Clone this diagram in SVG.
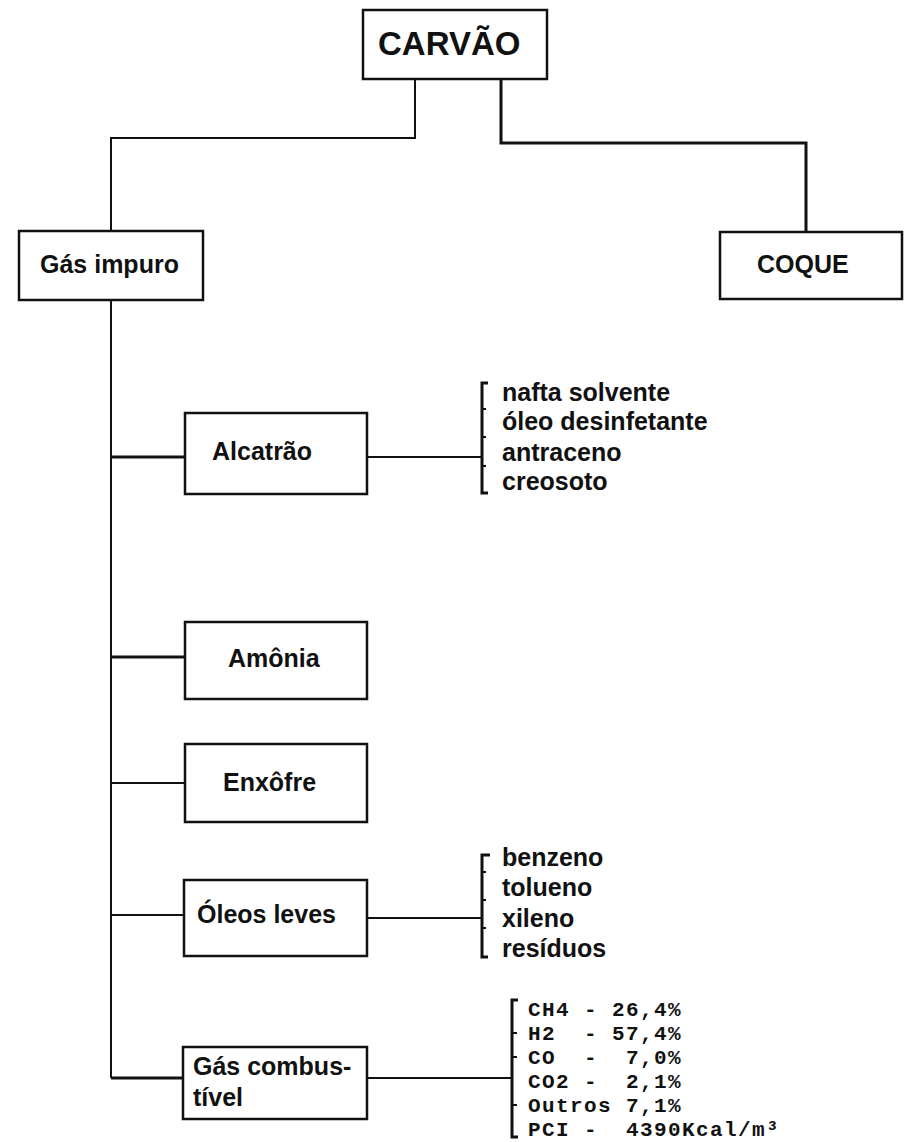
<svg xmlns="http://www.w3.org/2000/svg" width="907" height="1142" viewBox="0 0 907 1142">
<style>
.box{fill:#fff;stroke:#111;stroke-width:2.5}
.ln{fill:none;stroke:#111;stroke-width:2}
.thk{fill:none;stroke:#111;stroke-width:3}
.lbl{font-family:"Liberation Sans",Arial,sans-serif;font-weight:bold;font-size:25px;fill:#111}
.big{font-family:"Liberation Sans",Arial,sans-serif;font-weight:bold;font-size:33px;fill:#111}
.mono{font-family:"Liberation Mono","Courier New",monospace;font-weight:bold;font-size:21px;letter-spacing:1.4px;fill:#111;white-space:pre}
</style>
<rect width="907" height="1142" fill="#fff"/>
<g id="connectors">
<path class="ln" d="M415,79 V138 H111 V231"/>
<path class="thk" d="M501,79 V143 H806 V232"/>
<path class="ln" d="M111,300 V1078"/>
<path class="thk" d="M111,457 H185"/>
<path class="thk" d="M111,657 H185"/>
<path class="ln" d="M111,783 H185"/>
<path class="ln" d="M111,915 H184"/>
<path class="thk" d="M111,1078 H183"/>
<path class="ln" d="M367,457 H482"/>
<path class="ln" d="M367,918 H482"/>
<path class="ln" d="M367,1078 H512"/>
<path class="thk" d="M488,383 H482 V493 H488"/>
<path class="ln" d="M482,409 H486 M482,437 H486 M482,466 H486"/>
<path class="thk" d="M490,855 H482 V957 H488"/>
<path class="ln" d="M482,872 H486 M482,900 H486 M482,928 H486"/>
<path class="thk" d="M518,1000 H512 V1137 H518"/>
<path class="ln" d="M512,1033 H517 M512,1057 H517 M512,1105 H517"/>
</g>
<g id="carvao">
<rect class="box" x="363" y="10" width="184" height="69"/>
<text class="big" x="378" y="55">CARVÃO</text>
</g>
<g id="gas-impuro">
<rect class="box" x="19" y="231" width="184" height="69"/>
<text class="lbl" x="40" y="273">Gás impuro</text>
</g>
<g id="coque">
<rect class="box" x="720" y="232" width="182" height="67"/>
<text class="lbl" x="757" y="273">COQUE</text>
</g>
<g id="alcatrao">
<rect class="box" x="185" y="413" width="182" height="81"/>
<text class="lbl" x="212" y="460">Alcatrão</text>
</g>
<g id="alcatrao-produtos">
<text class="lbl" x="502" y="401">nafta solvente</text>
<text class="lbl" x="502" y="430">óleo desinfetante</text>
<text class="lbl" x="502" y="461">antraceno</text>
<text class="lbl" x="502" y="490">creosoto</text>
</g>
<g id="amonia">
<rect class="box" x="185" y="622" width="182" height="77"/>
<text class="lbl" x="228" y="667">Amônia</text>
</g>
<g id="enxofre">
<rect class="box" x="185" y="744" width="182" height="78"/>
<text class="lbl" x="223" y="791">Enxôfre</text>
</g>
<g id="oleos-leves">
<rect class="box" x="184" y="880" width="183" height="76"/>
<text class="lbl" x="197" y="923">Óleos leves</text>
</g>
<g id="oleos-produtos">
<text class="lbl" x="502" y="866">benzeno</text>
<text class="lbl" x="502" y="896">tolueno</text>
<text class="lbl" x="502" y="927">xileno</text>
<text class="lbl" x="502" y="957">resíduos</text>
</g>
<g id="gas-combustivel">
<rect class="box" x="183" y="1047" width="184" height="72"/>
<text class="lbl" x="193" y="1075">Gás combus-</text>
<text class="lbl" x="193" y="1106">tível</text>
</g>
<g id="gas-composicao">
<text class="mono" x="528" y="1016" xml:space="preserve">CH4 - 26,4%</text>
<text class="mono" x="528" y="1040" xml:space="preserve">H2  - 57,4%</text>
<text class="mono" x="528" y="1064" xml:space="preserve">CO  -  7,0%</text>
<text class="mono" x="528" y="1088" xml:space="preserve">CO2 -  2,1%</text>
<text class="mono" x="528" y="1112" xml:space="preserve">Outros 7,1%</text>
<text class="mono" x="528" y="1136" xml:space="preserve">PCI -  4390Kcal/m³</text>
</g>
</svg>
